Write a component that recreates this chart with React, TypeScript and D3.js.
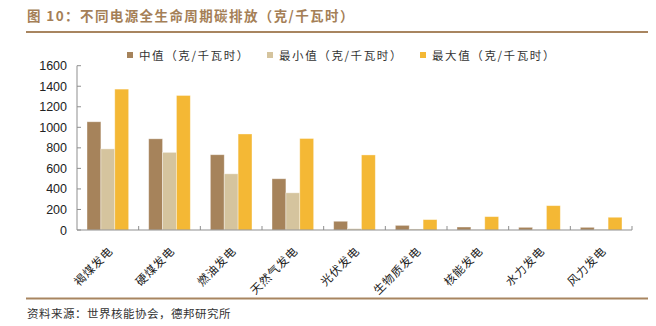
import React from "react";
import * as d3 from "d3";

const categories = ["褐煤发电", "硬煤发电", "燃油发电", "天然气发电", "光伏发电", "生物质发电", "核能发电", "水力发电", "风力发电"];
const seriesNames = ["中值（克/千瓦时）", "最小值（克/千瓦时）", "最大值（克/千瓦时）"];
const medianValues = [1054, 888, 733, 499, 85, 45, 29, 26, 26];
const minValues = [790, 756, 547, 362, 13, 10, 2, 2, 6];
const maxValues = [1372, 1310, 935, 891, 731, 101, 130, 237, 124];
const yTicks = [0, 200, 400, 600, 800, 1000, 1200, 1400, 1600];
const colors = ["#A6835B", "#D5C49E", "#F4B835"];

const W = 656, H = 326;
const left = 77, right = 632, top = 65.7, bottom = 230;
const CJK = "'Noto Sans CJK SC', 'Noto Sans', sans-serif";
const NUM = "'Liberation Sans', Arial, sans-serif";

export default function App() {
  const series = [medianValues, minValues, maxValues];
  const x = d3.scaleBand<string>().domain(categories).range([left, right]).paddingInner(0).paddingOuter(0);
  const bw = x.bandwidth();
  const barW = bw * 0.225;
  const groupOff = (bw - barW * 3) / 2;
  const y = d3.scaleLinear().domain([0, 1600]).range([bottom, top]);
  const axisColor = "#8f8f8f";
  const legendX = [127, 267, 420];

  return (
    <svg width={W} height={H} style={{ position: "absolute", left: 0, top: 0, background: "#fff" }}>
      <text x={27} y={21} fontFamily={CJK} fontSize={13.5} fontWeight="bold" fill="#A57F57" letterSpacing={1.4}>
        图 10：不同电源全生命周期碳排放（克/千瓦时）
      </text>
      <line x1={26} x2={648} y1={32} y2={32} stroke="#A88560" strokeWidth={2} />

      {seriesNames.map((s, i) => (
        <g key={s}>
          <rect x={legendX[i]} y={52} width={6} height={6} fill={colors[i]} />
          <text x={legendX[i] + 12} y={59.5} fontFamily={CJK} fontSize={11.5} fill="#333" letterSpacing={1.6}>{s}</text>
        </g>
      ))}

      {categories.map((c, ci) => (
        <g key={c}>
          {series.map((vals, si) => (
            <rect
              key={si}
              x={(x(c) as number) + groupOff + si * barW}
              y={y(vals[ci])}
              width={barW}
              height={bottom - y(vals[ci])}
              fill={colors[si]}
              stroke="#ffffff"
              strokeOpacity={0.45}
              strokeWidth={0.8}
            />
          ))}
        </g>
      ))}

      <line x1={left} x2={left} y1={top} y2={bottom} stroke={axisColor} strokeWidth={1} />
      <line x1={left} x2={right} y1={bottom} y2={bottom} stroke={axisColor} strokeWidth={1} />
      {yTicks.map((t) => (
        <g key={t}>
          <line x1={left} x2={left + 4} y1={y(t)} y2={y(t)} stroke={axisColor} />
          <text x={67} y={y(t)} dy="0.36em" textAnchor="end" fontFamily={NUM} fontSize={12.5} fill="#222">{t}</text>
        </g>
      ))}
      {categories.map((c) => (
        <line key={c} x1={(x(c) as number) + bw} x2={(x(c) as number) + bw} y1={bottom} y2={bottom - 4} stroke={axisColor} />
      ))}

      {categories.map((c) => {
        const cx = (x(c) as number) + bw / 2 + 3;
        return (
          <text
            key={c}
            transform={`translate(${cx},${249}) rotate(-45)`}
            textAnchor="end"
            dy="0.35em"
            fontFamily={CJK}
            fontSize={11.5}
            fill="#222"
            letterSpacing={0.8}
          >
            {c}
          </text>
        );
      })}

      <line x1={26} x2={648} y1={298.5} y2={298.5} stroke="#A88560" strokeWidth={2} />
      <text x={27} y={318} fontFamily={CJK} fontSize={11.5} fill="#333" letterSpacing={0.5}>资料来源：世界核能协会，德邦研究所</text>
    </svg>
  );
}
